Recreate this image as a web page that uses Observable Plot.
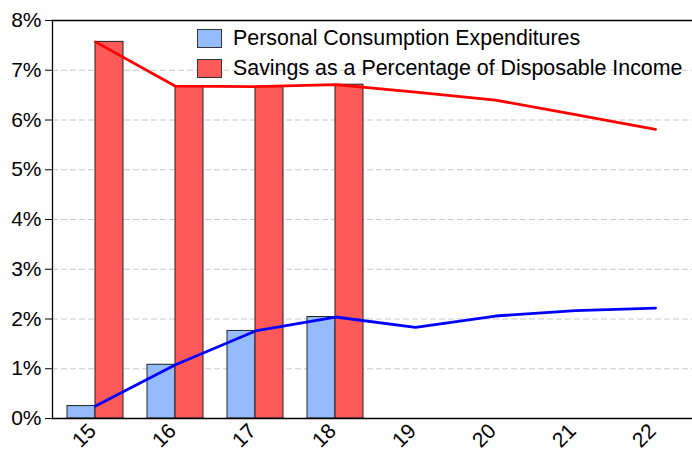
<!DOCTYPE html>
<html>
<head>
<meta charset="utf-8">
<script src="https://cdn.jsdelivr.net/npm/d3@7"></script>
<script src="https://cdn.jsdelivr.net/npm/@observablehq/plot@0.6"></script>
<style>
  html, body { margin: 0; padding: 0; background: #fff; overflow: hidden; }
  #wrap { position: relative; width: 692px; height: 452px; overflow: hidden; font-family: "Liberation Sans", Arial, sans-serif; }
  #wrap svg { max-width: none !important; display: block; }
  #legend { position: absolute; left: 197px; top: 23px; font-size: 21.4px; color: #000; }
  .item { display: flex; align-items: center; height: 30px; white-space: nowrap; }
  .sw { width: 25px; height: 19px; border: 1px solid #333; box-sizing: border-box; margin-right: 11px; }
</style>
</head>
<body>
<div id="wrap"><div id="legend"></div></div>
<script>
const years = ["15", "16", "17", "18", "19", "20", "21", "22"];
const pceLine = [0.25, 1.08, 1.76, 2.04, 1.83, 2.06, 2.17, 2.22];
const savingsLine = [7.57, 6.68, 6.67, 6.71, 6.56, 6.40, 6.11, 5.81];
const barYears = ["15", "16", "17", "18"];
const pceBars = [0.25, 1.08, 1.76, 2.04];
const savingsBars = [7.57, 6.68, 6.67, 6.71];
const yTicks = [0, 1, 2, 3, 4, 5, 6, 7, 8];
const gridTicks = [1, 2, 3, 4, 5, 6, 7];
const seriesNames = ["Personal Consumption Expenditures", "Savings as a Percentage of Disposable Income"];
const barColors = ["#94bcfd", "#ff5a5a"];
const lineColors = ["#0000ff", "#ff0000"];

const lineData = years.map((yr, i) => ({year: yr, pce: pceLine[i], sav: savingsLine[i]}));
const barData = barYears.map((yr, i) => ({year: yr, pce: pceBars[i], sav: savingsBars[i]}));

const chart = Plot.plot({
  width: 697,
  height: 452,
  marginTop: 20,
  marginBottom: 34,
  marginLeft: 52,
  marginRight: 0,
  style: {fontFamily: '"Liberation Sans", Arial, sans-serif', fontSize: "21px", color: "#000", background: "#fff", maxWidth: "none"},
  x: {type: "band", domain: years, paddingInner: 0.305, paddingOuter: 0.1525, label: null},
  y: {domain: [0, 8], label: null},
  marks: [
    Plot.gridY(gridTicks, {stroke: "#c8c8c8", strokeOpacity: 1, strokeDasharray: "6,3"}),
    Plot.barY(barData, {x: "year", y: "pce", fill: barColors[0], stroke: "#222", strokeWidth: 1, insetRight: 28}),
    Plot.barY(barData, {x: "year", y: "sav", fill: barColors[1], stroke: "#222", strokeWidth: 1, insetLeft: 28}),
    Plot.line(lineData, {x: "year", y: "pce", stroke: lineColors[0], strokeWidth: 2.8}),
    Plot.line(lineData, {x: "year", y: "sav", stroke: lineColors[1], strokeWidth: 2.8}),
    Plot.ruleY([0, 8], {stroke: "#000", strokeWidth: 1.3}),
    Plot.frame({anchor: "left", stroke: "#000", strokeWidth: 1.3}),
    Plot.axisY(yTicks, {tickFormat: d => d + "%", tickSize: 7, tickPadding: 4, fontSize: 21}),
    Plot.axisX({tickSize: 0, tickRotate: -45, tickPadding: 9, dx: -3, fontSize: 21})
  ]
});
const wrap = document.getElementById("wrap");
wrap.insertBefore(chart, wrap.firstChild);

const legend = document.getElementById("legend");
seriesNames.forEach((name, i) => {
  const it = document.createElement("div");
  it.className = "item";
  const sw = document.createElement("span");
  sw.className = "sw";
  sw.style.background = barColors[i];
  const tx = document.createElement("span");
  tx.textContent = name;
  it.appendChild(sw);
  it.appendChild(tx);
  legend.appendChild(it);
});
</script>
</body>
</html>
